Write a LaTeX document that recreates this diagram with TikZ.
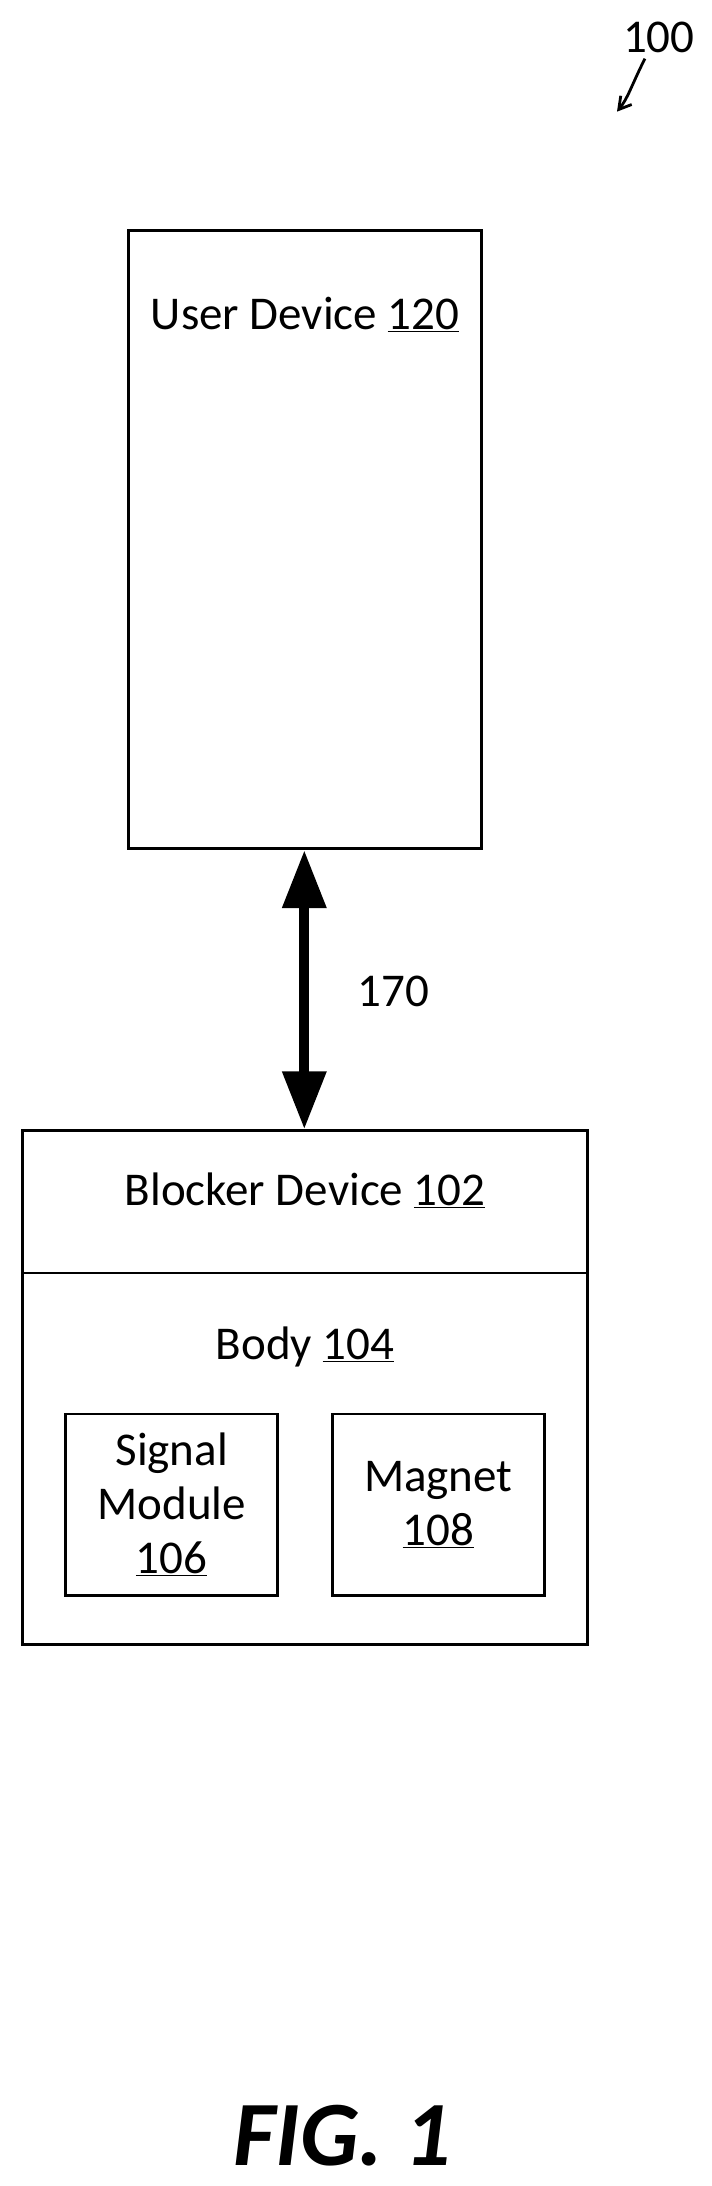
\documentclass[tikz,border=0pt]{standalone}
\usepackage{fontspec}
\setmainfont{Carlito}
\usetikzlibrary{arrows.meta}
\begin{document}
\begin{tikzpicture}[x=1.396pt,y=-1.396pt,
  box/.style={draw,line width=2.8pt},
  lbl/.style={font=\fontsize{47}{54}\selectfont,align=center,inner sep=0}]
\useasboundingbox (0,0) rectangle (510,1566);
\fill[white] (0,0) rectangle (510,1566);
\draw[box] (92,165) rectangle (345,608);
\node[lbl] (ud) at (218.5,225) {User Device \underline{120}};
\draw[box] (16,810) rectangle (421,1178);
\draw[box] (16,912) -- (421,912);
\node[lbl] (bd) at (218.5,853) {Blocker Device \underline{102}};
\node[lbl] (bo) at (218.5,965) {Body \underline{104}};
\draw[box] (47,1013) rectangle (199,1143);
\node[lbl] (sm) at (123,1078) {Signal\\Module\\\underline{106}};
\draw[box] (238,1013) rectangle (390,1143);
\node[lbl] (mg) at (314,1078) {Magnet\\\underline{108}};
\coordinate (a1) at (218,609);
\coordinate (a2) at (218,809);
\draw[line width=10pt,{Triangle[length=58pt,width=42pt]}-{Triangle[length=58pt,width=42pt]}] (a1) -- (a2);
\node[lbl] (l170) at (282,710) {170};
\node[lbl] (l100) at (472,27) {100};
\coordinate (p1) at (462,42);
\coordinate (p2) at (442,80);
\draw[line width=2.8pt,-{Straight Barb[length=12pt,width=14pt]}] (p1) .. controls (452,62) and (450,70) .. (p2);
\node[font=\bfseries\itshape\fontsize{92}{96}\selectfont,inner sep=0] (fig) at (245,1530) {FIG. 1};
\end{tikzpicture}
\end{document}
